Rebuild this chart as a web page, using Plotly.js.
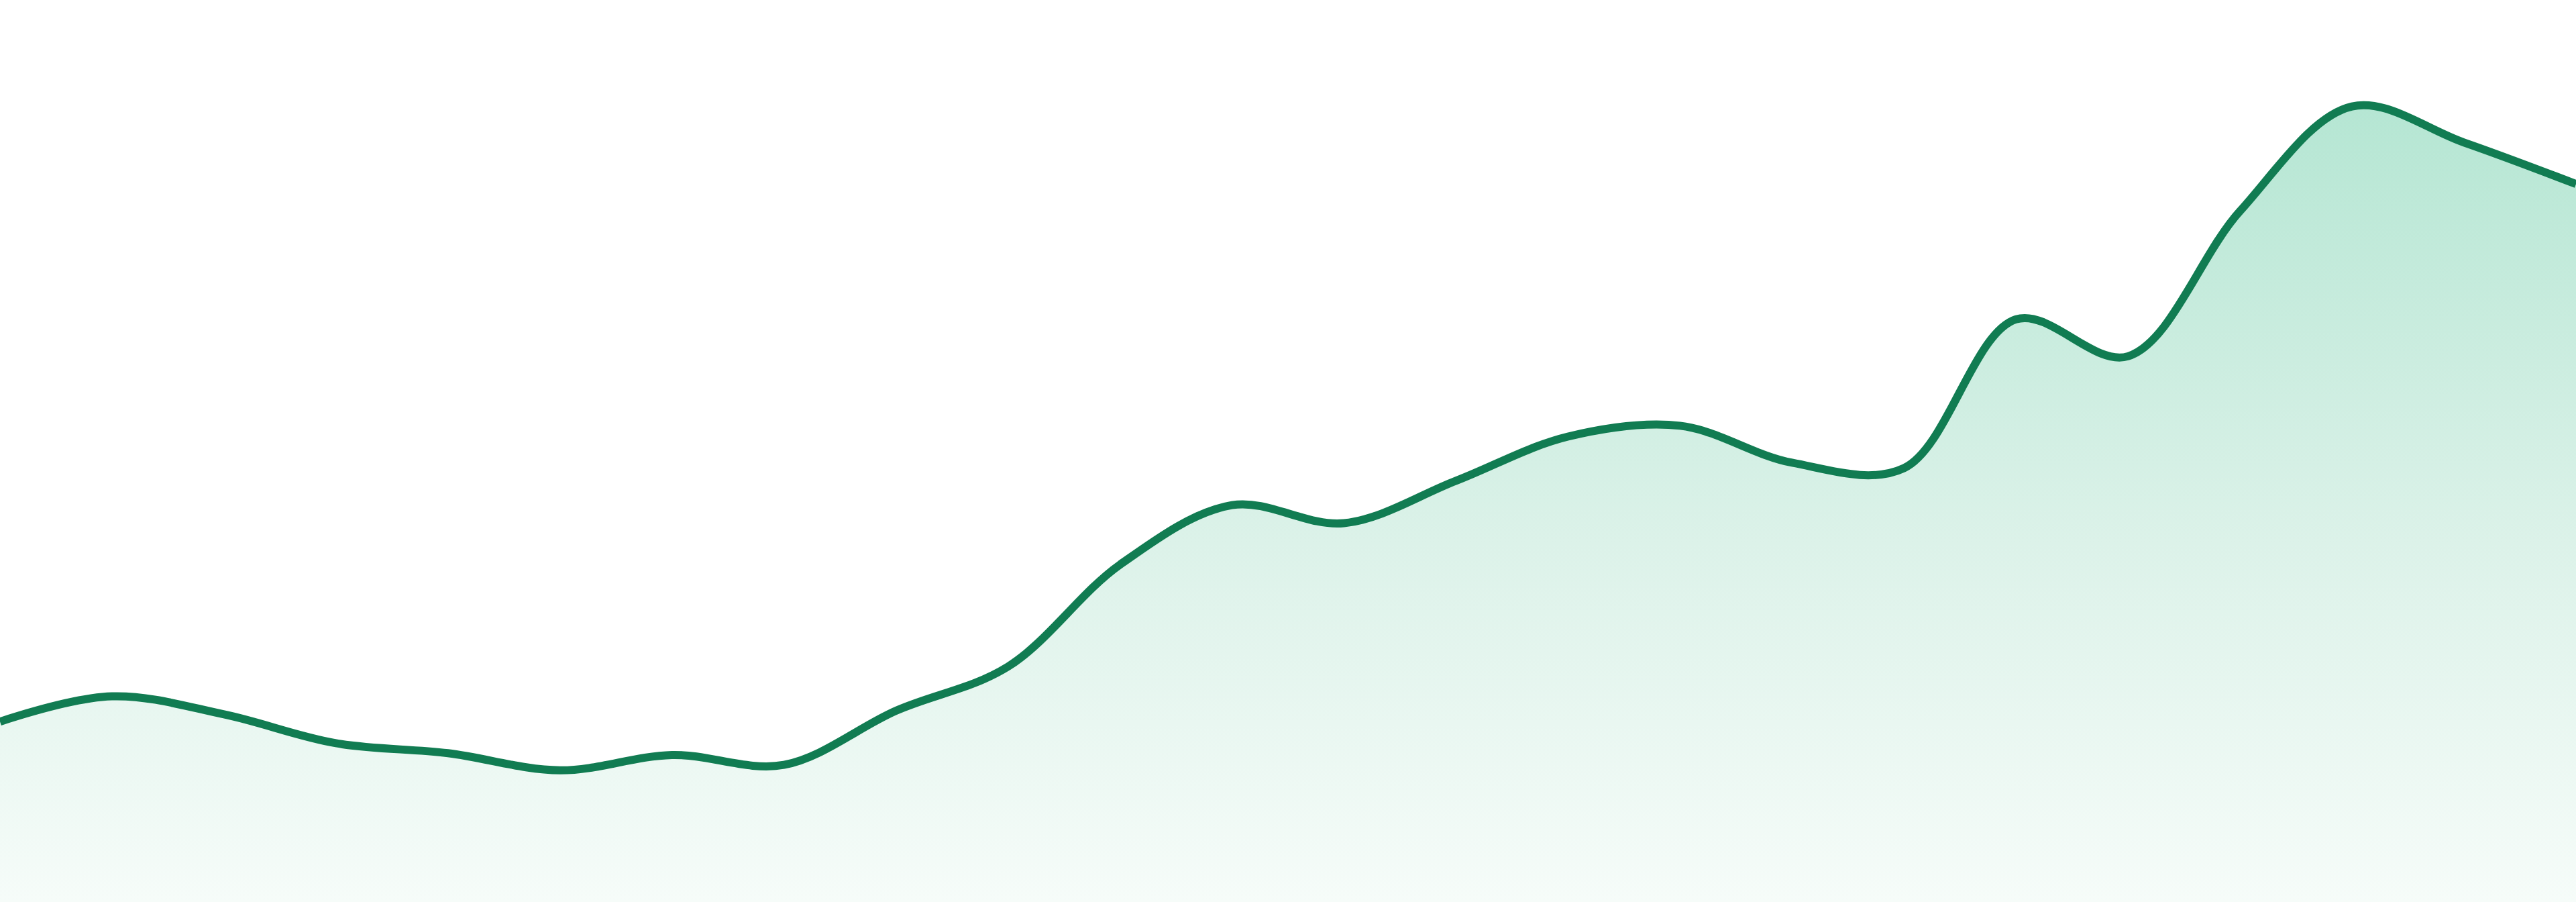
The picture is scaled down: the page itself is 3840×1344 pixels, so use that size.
<!DOCTYPE html>
<html>
<head>
<meta charset="utf-8">
<script src="https://cdn.plot.ly/plotly-3.0.1.min.js"></script>
<style>
  html, body { margin: 0; padding: 0; background: #ffffff; }
  #chart { width: 3840px; height: 1344px; }
</style>
</head>
<body>
<div id="chart"></div>
<script>
// Sparkline values (arbitrary 0-100 scale).
const steps  = [0, 1, 2, 3, 4, 5, 6, 7, 8, 9, 10, 11, 12, 13, 14, 15, 16, 17, 18, 19, 20, 21, 22, 23];
const values = [20.0, 22.8, 20.8, 17.6, 16.5, 14.6, 16.3, 15.2, 21.2, 26.1, 37.4, 44.0,
                42.0, 46.7, 51.6, 52.8, 48.7, 48.1, 64.6, 60.5, 76.6, 88.2, 84.2, 79.6];

const LINE = "#117c52";

const trace = {
  type: "scatter",
  mode: "lines",
  x: steps,
  y: values,
  line: { color: LINE, width: 12, shape: "spline", smoothing: 1 },
  fill: "tozeroy",
  fillgradient: {
    type: "vertical",
    colorscale: [
      [0,    "rgba(246,252,249,1)"],
      [0.45, "rgba(220,242,233,1)"],
      [1,    "rgba(181,230,211,1)"],
    ],
  },
  hoverinfo: "skip",
};

const layout = {
  width: 3840,
  height: 1344,
  margin: { l: 0, r: 0, t: 0, b: 0 },
  paper_bgcolor: "#ffffff",
  plot_bgcolor: "#ffffff",
  showlegend: false,
  xaxis: { range: [0, 23], visible: false, fixedrange: true },
  yaxis: { range: [0, 100], visible: false, fixedrange: true },
};

Plotly.newPlot("chart", [trace], layout, { displayModeBar: false, staticPlot: true });
</script>
</body>
</html>
